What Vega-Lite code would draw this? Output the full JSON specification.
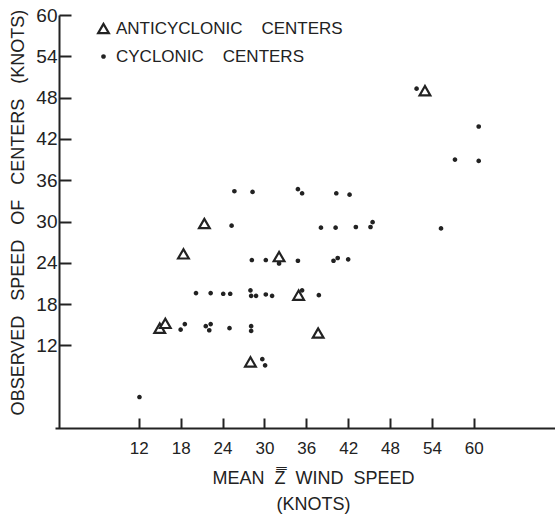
{
  "$schema": "https://vega.github.io/schema/vega-lite/v6.json",
  "width": 500,
  "height": 413,
  "autosize": {"type": "none"},
  "padding": {"left": 55, "top": 15, "right": 0, "bottom": 86},
  "background": "white",
  "config": {
    "font": "Liberation Sans",
    "view": {"stroke": null},
    "axis": {"grid": false, "domainColor": "#222", "tickColor": "#222", "labelColor": "#222", "titleColor": "#222", "domainWidth": 2, "tickWidth": 2, "titleFontWeight": "normal"},
    "legend": {"labelLimit": 400}
  },
  "data": {
    "values": [
      {"x": 15.0, "y": 14.5, "t": "a"},
      {"x": 15.8, "y": 15.2, "t": "a"},
      {"x": 18.4, "y": 25.3, "t": "a"},
      {"x": 21.4, "y": 29.7, "t": "a"},
      {"x": 28.0, "y": 9.6, "t": "a"},
      {"x": 32.1, "y": 24.9, "t": "a"},
      {"x": 34.9, "y": 19.3, "t": "a"},
      {"x": 37.7, "y": 13.8, "t": "a"},
      {"x": 53.0, "y": 49.0, "t": "a"},
      {"x": 12.1, "y": 4.5, "t": "c"},
      {"x": 18.0, "y": 14.3, "t": "c"},
      {"x": 18.6, "y": 15.1, "t": "c"},
      {"x": 21.6, "y": 14.8, "t": "c"},
      {"x": 22.1, "y": 14.2, "t": "c"},
      {"x": 22.3, "y": 15.1, "t": "c"},
      {"x": 25.0, "y": 14.5, "t": "c"},
      {"x": 28.1, "y": 14.8, "t": "c"},
      {"x": 28.1, "y": 14.1, "t": "c"},
      {"x": 29.7, "y": 10.0, "t": "c"},
      {"x": 30.1, "y": 9.1, "t": "c"},
      {"x": 20.2, "y": 19.6, "t": "c"},
      {"x": 22.3, "y": 19.6, "t": "c"},
      {"x": 24.1, "y": 19.5, "t": "c"},
      {"x": 25.1, "y": 19.5, "t": "c"},
      {"x": 28.0, "y": 20.0, "t": "c"},
      {"x": 28.1, "y": 19.2, "t": "c"},
      {"x": 28.8, "y": 19.2, "t": "c"},
      {"x": 30.2, "y": 19.4, "t": "c"},
      {"x": 31.1, "y": 19.2, "t": "c"},
      {"x": 35.4, "y": 20.0, "t": "c"},
      {"x": 37.8, "y": 19.3, "t": "c"},
      {"x": 28.2, "y": 24.4, "t": "c"},
      {"x": 30.2, "y": 24.4, "t": "c"},
      {"x": 32.1, "y": 23.9, "t": "c"},
      {"x": 34.8, "y": 24.3, "t": "c"},
      {"x": 39.9, "y": 24.3, "t": "c"},
      {"x": 40.5, "y": 24.7, "t": "c"},
      {"x": 42.0, "y": 24.5, "t": "c"},
      {"x": 25.3, "y": 29.4, "t": "c"},
      {"x": 38.1, "y": 29.1, "t": "c"},
      {"x": 40.2, "y": 29.1, "t": "c"},
      {"x": 43.1, "y": 29.2, "t": "c"},
      {"x": 45.2, "y": 29.2, "t": "c"},
      {"x": 45.5, "y": 29.9, "t": "c"},
      {"x": 55.3, "y": 29.0, "t": "c"},
      {"x": 25.7, "y": 34.4, "t": "c"},
      {"x": 28.3, "y": 34.3, "t": "c"},
      {"x": 34.8, "y": 34.7, "t": "c"},
      {"x": 35.4, "y": 34.1, "t": "c"},
      {"x": 40.3, "y": 34.1, "t": "c"},
      {"x": 42.2, "y": 33.9, "t": "c"},
      {"x": 57.3, "y": 39.0, "t": "c"},
      {"x": 60.7, "y": 38.8, "t": "c"},
      {"x": 60.7, "y": 43.8, "t": "c"},
      {"x": 51.8, "y": 49.3, "t": "c"}
    ]
  },
  "mark": {"type": "point", "filled": false, "stroke": "#222", "strokeWidth": 2.2, "opacity": 1},
  "encoding": {
    "x": {
      "field": "x", "type": "quantitative",
      "scale": {"domain": [0, 71.63], "nice": false, "zero": false},
      "axis": {
        "values": [12, 18, 24, 30, 36, 42, 48, 54, 60],
        "tickSize": -10, "labelPadding": 22, "labelFontSize": 17,
        "title": ["MEAN\u00a0\u00a0Z̿\u00a0\u00a0WIND\u00a0\u00a0SPEED", "(KNOTS)"],
        "titleFontSize": 18, "titleLineHeight": 26,
        "titleX": 258, "titleY": 55, "titleBaseline": "alphabetic", "titleAlign": "center", "titleAnchor": null
      }
    },
    "y": {
      "field": "y", "type": "quantitative",
      "scale": {"domain": [0, 60], "nice": false, "zero": false},
      "axis": {
        "values": [12, 18, 24, 30, 36, 42, 48, 54, 60],
        "offset": -4,
        "tickSize": -12, "labelPadding": 14, "labelFontSize": 19,
        "title": "OBSERVED\u00a0\u00a0\u00a0SPEED\u00a0\u00a0\u00a0OF\u00a0\u00a0\u00a0CENTERS\u00a0\u00a0\u00a0(KNOTS)",
        "titleFontSize": 18, "titleAngle": -90,
        "titleX": -41, "titleY": 197, "titleAlign": "center", "titleBaseline": "middle"
      }
    },
    "shape": {
      "field": "t", "type": "nominal",
      "scale": {"domain": ["a", "c"], "range": ["triangle-up", "circle"]},
      "legend": {
        "title": null, "orient": "none", "legendX": 40, "legendY": 5,
        "labelFontSize": 17, "labelColor": "#222", "rowPadding": 9, "symbolStrokeWidth": 2.2,
        "labelExpr": "datum.label == 'a' ? 'ANTICYCLONIC\u00a0\u00a0\u00a0\u00a0CENTERS' : 'CYCLONIC\u00a0\u00a0\u00a0\u00a0CENTERS'"
      }
    },
    "fill": {
      "field": "t", "type": "nominal",
      "scale": {"domain": ["a", "c"], "range": ["white", "#222"]},
      "legend": {
        "title": null, "orient": "none", "legendX": 40, "legendY": 5,
        "labelFontSize": 17, "labelColor": "#222", "rowPadding": 9, "symbolStrokeWidth": 2.2,
        "labelExpr": "datum.label == 'a' ? 'ANTICYCLONIC\u00a0\u00a0\u00a0\u00a0CENTERS' : 'CYCLONIC\u00a0\u00a0\u00a0\u00a0CENTERS'"
      }
    },
    "size": {
      "field": "t", "type": "nominal",
      "scale": {"domain": ["a", "c"], "range": [115, 6]},
      "legend": {
        "title": null, "orient": "none", "legendX": 40, "legendY": 5,
        "labelFontSize": 17, "labelColor": "#222", "rowPadding": 9, "symbolStrokeWidth": 2.2,
        "labelExpr": "datum.label == 'a' ? 'ANTICYCLONIC\u00a0\u00a0\u00a0\u00a0CENTERS' : 'CYCLONIC\u00a0\u00a0\u00a0\u00a0CENTERS'"
      }
    }
  }
}
